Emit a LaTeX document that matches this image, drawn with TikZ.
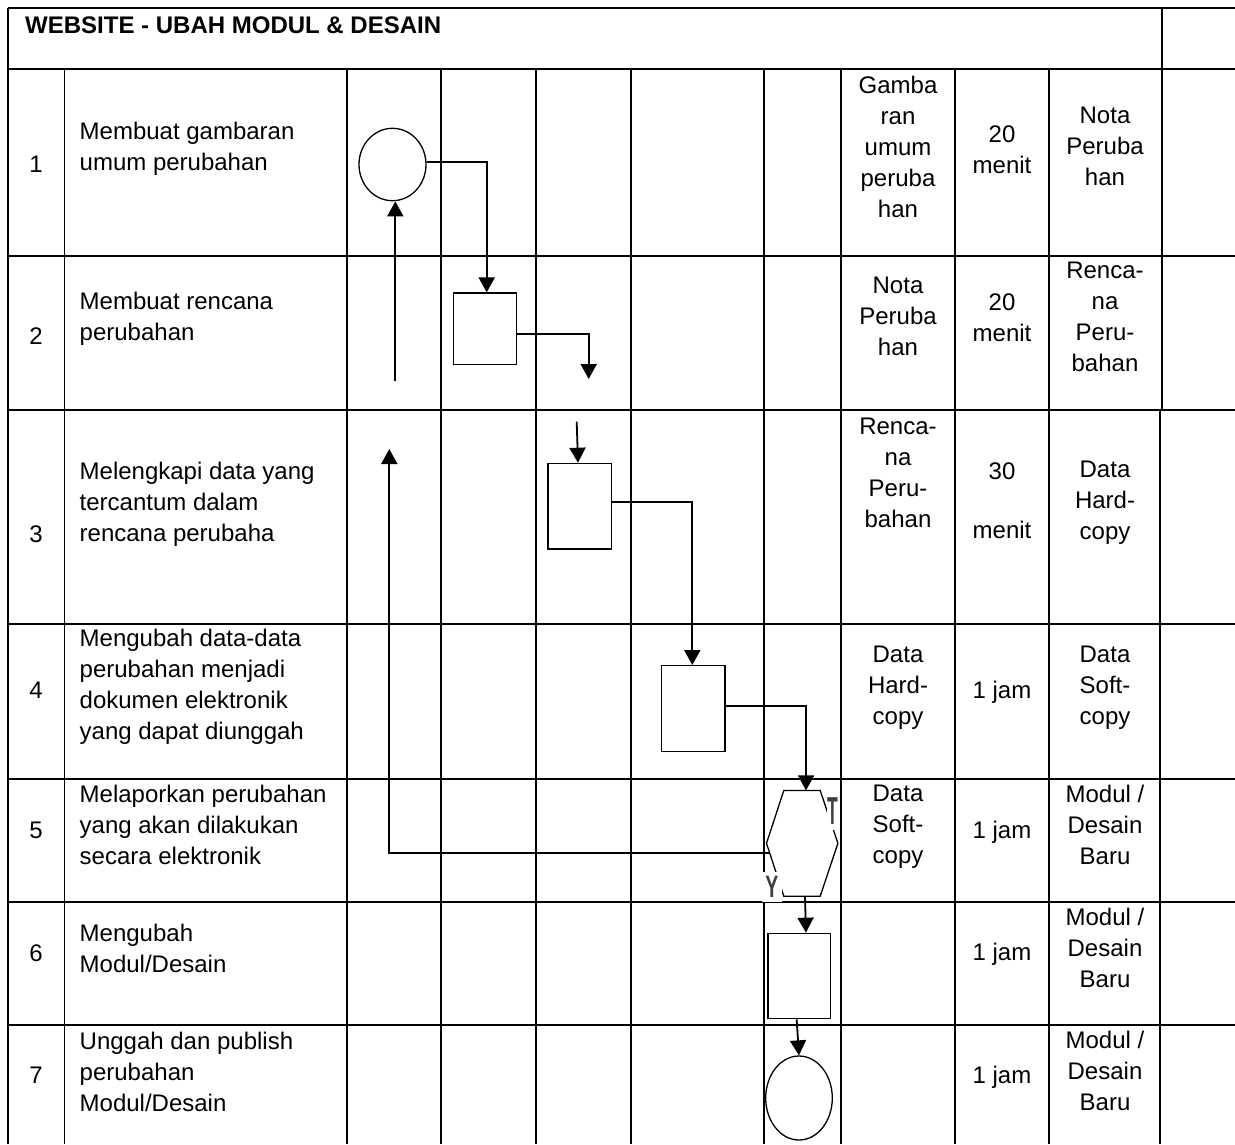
\documentclass[tikz,border=0pt]{standalone}
\usepackage{fontspec}
\setmainfont{Liberation Sans}
\usetikzlibrary{arrows.meta,shapes.geometric,calc}
\begin{document}
\begin{tikzpicture}[x=1pt,y=-1pt,
  grid/.style={line width=1.9pt},
  shp/.style={draw, line width=1.3pt, inner sep=0pt},
  conn/.style={line width=1.8pt, -{Triangle[length=15pt,width=16pt]}},
  txt/.style={anchor=north, inner sep=0pt, align=center, font=\fontsize{24}{31}\selectfont, execute at begin node=\strut},
  ltxt/.style={txt, anchor=north west, align=left},
  lbl/.style={fill=white, inner sep=0pt, text=black!75}
]
\useasboundingbox (0,0) rectangle (1235,1144);
% grid
\foreach \y in {8,69,256,410,624,779,902,1025} \draw[grid] (8,\y) -- (1235,\y);
\draw[grid] (8,8) -- (8,1144);
\draw[grid] (1162,8) -- (1162,410);
\draw[grid] (1160,410) -- (1160,1144);
\foreach \x in {64.5,347,441,536,631,764,841,955,1049} \draw[grid] (\x,69) -- (\x,1144);
% title
\node[ltxt, font=\fontsize{24}{31}\selectfont\bfseries] (title) at (25,11.5) {WEBSITE - UBAH MODUL \& DESAIN};
% numbers
\node[txt] (n1) at (36,151) {1};
\node[txt] (n2) at (36,323) {2};
\node[txt] (n3) at (36,521) {3};
\node[txt] (n4) at (36,677) {4};
\node[txt] (n5) at (36,817) {5};
\node[txt] (n6) at (36,940) {6};
\node[txt] (n7) at (36,1062) {7};
% descriptions
\node[ltxt] (d1) at (79.5,122) {Membuat gambaran\\umum perubahan};
\node[ltxt] (d2) at (79.5,292) {Membuat rencana\\perubahan};
\node[ltxt] (d3) at (79.5,462) {Melengkapi data yang\\tercantum dalam\\rencana perubaha};
\node[ltxt] (d4) at (79.5,629) {Mengubah data-data\\perubahan menjadi\\dokumen elektronik\\yang dapat diunggah};
\node[ltxt] (d5) at (79.5,785) {Melaporkan perubahan\\yang akan dilakukan\\secara elektronik};
\node[ltxt] (d6) at (79.5,924) {Mengubah\\Modul/Desain};
\node[ltxt] (d7) at (79.5,1032) {Unggah dan publish\\perubahan\\Modul/Desain};
% inputs
\node[txt] (i1) at (898,76) {Gamba\\ran\\umum\\peruba\\han};
\node[txt] (i2) at (898,277) {Nota\\Peruba\\han};
\node[txt] (i3) at (898,418) {Renca-\\na\\Peru-\\bahan};
\node[txt] (i4) at (898,646) {Data\\Hard-\\copy};
\node[txt] (i5) at (898,785) {Data\\Soft-\\copy};
% times
\node[txt] (t1) at (1002,126) {20\\menit};
\node[txt] (t2) at (1002,294) {20\\menit};
\node[txt] (t3) at (1002,463) {30\\[28pt]menit};
\node[txt] (t4) at (1002,677) {1 jam};
\node[txt] (t5) at (1002,817) {1 jam};
\node[txt] (t6) at (1002,939) {1 jam};
\node[txt] (t7) at (1002,1062) {1 jam};
% outputs
\node[txt] (o1) at (1105,107) {Nota\\Peruba\\han};
\node[txt] (o2) at (1105,262) {Renca-\\na\\Peru-\\bahan};
\node[txt] (o3) at (1105,461) {Data\\Hard-\\copy};
\node[txt] (o4) at (1105,646) {Data\\Soft-\\copy};
\node[txt] (o5) at (1105,785) {Modul /\\Desain\\Baru};
\node[txt] (o6) at (1105,908) {Modul /\\Desain\\Baru};
\node[txt] (o7) at (1105,1031) {Modul /\\Desain\\Baru};
% shapes
\node[shp, ellipse, minimum width=67pt, minimum height=72.4pt] (c1) at (392.5,164.5) {};
\node[shp, rectangle, minimum width=63pt, minimum height=71.7pt] (b2) at (484.8,328.9) {};
\node[shp, rectangle, minimum width=63.7pt, minimum height=85.7pt] (b3) at (579.9,506.2) {};
\node[shp, rectangle, minimum width=63.7pt, minimum height=85.6pt] (b4) at (693.2,708.5) {};
\node[inner sep=0pt, minimum width=71pt, minimum height=105.3pt] (hx) at (802.2,843.3) {};
\draw[line width=1.3pt] ([xshift=17.3pt]hx.north west) -- ([xshift=-17.7pt]hx.north east) -- (hx.east)
  -- ([xshift=-17.7pt]hx.south east) -- ([xshift=17.3pt]hx.south west) -- (hx.west) -- cycle;
\node[shp, rectangle, minimum width=62.7pt, minimum height=85.4pt] (b6) at (799.35,976) {};
\node[shp, ellipse, minimum width=66.6pt, minimum height=84pt] (c7) at (799,1098) {};
% connectors
\coordinate (e2) at (588.7,379);
\coordinate (s3) at (576.7,421.7);
\coordinate (e5) at (389.3,449);
\coordinate (s1) at (395.3,380.7);
\coordinate (hxin) at ([xshift=3.8pt]hx.north);
\coordinate (hxl) at ([xshift=3.1pt,yshift=-9.4pt]hx.west);
\draw[conn] ([yshift=2.8pt]c1.east) -| ([xshift=1.9pt]b2.north);
\draw[conn] ([yshift=-4.8pt]b2.east) -| (e2);
\draw[conn] (s3) -- ([xshift=-1.9pt]b3.north);
\draw[conn] ([yshift=4.5pt]b3.east) -| ([xshift=-0.9pt]b4.north);
\draw[conn] ([yshift=2.5pt]b4.east) -| (hxin);
\draw[conn] (hxl) -| (e5);
\draw[conn] (s1) -- (s1 |- c1.south);
\draw[conn] ([xshift=2.8pt]hx.south) -- ([xshift=6.6pt]b6.north);
\draw[conn] ([xshift=-2.7pt]b6.south) -- (c7.north);
% decision labels
\node[lbl, minimum width=11.6pt, minimum height=37pt] (lt) at (832.5,811.5) {\scalebox{0.45}[1]{\fontsize{39}{39}\selectfont\bfseries T}};
\node[lbl, minimum width=20.6pt, minimum height=30pt] (ly) at (772,886.7) {\scalebox{0.63}[1]{\fontsize{31}{31}\selectfont\bfseries Y}};
\end{tikzpicture}
\end{document}
